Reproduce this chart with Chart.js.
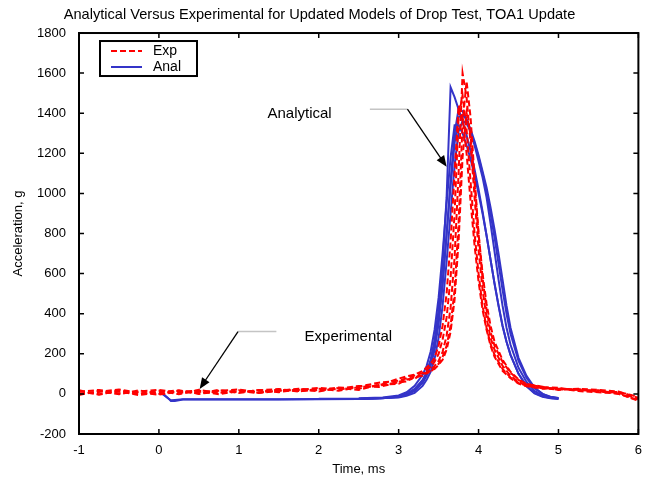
<!DOCTYPE html>
<html>
<head>
<meta charset="utf-8">
<script src="https://cdn.jsdelivr.net/npm/chart.js@4.4.1/dist/chart.umd.min.js"></script>
<style>
  html, body { margin: 0; padding: 0; background: #fff; }
  canvas { display: block; }
</style>
</head>
<body>
<canvas id="drop-chart" width="651" height="481"></canvas>
<script>
// drop test chart code

// Experimental traces: sample times (ms) and accelerations (g)
const expTime = [-1, -0.75, -0.5, -0.25, 0, 0.25, 0.5, 0.75, 1, 1.25, 1.5, 1.75, 2, 2.25, 2.5, 2.75,
  3.0, 3.1, 3.2, 3.3, 3.4,
  3.45, 3.5, 3.55, 3.6, 3.65, 3.7, 3.75, 3.8, 3.85, 3.9, 3.95, 4.0, 4.05, 4.1, 4.15, 4.2,
  4.3, 4.4, 4.5, 4.6, 4.8, 5.0, 5.25, 5.5, 5.75, 6.0];
const exp1 = [14, -4, 18, 0, 16, -2, 20, 4, 18, 6, 22, 12, 26, 16, 34, 40,
  60, 70, 82, 95, 120,
  140, 165, 210, 290, 430, 680, 1100, 1600, 1480, 1250, 980, 720, 520, 380, 280, 220,
  140, 90, 60, 42, 30, 26, 20, 14, 6, -25];
const exp2 = [-6, 16, -2, 18, 0, 16, 2, 20, 4, 20, 8, 24, 12, 30, 20, 46,
  50, 72, 76, 100, 110,
  130, 150, 185, 240, 340, 520, 850, 1350, 1560, 1380, 1080, 800, 580, 420, 310, 240,
  160, 105, 70, 48, 34, 30, 18, 18, 0, -30];
const exp3 = [10, 20, 2, 12, 20, 6, 10, 16, 22, 8, 16, 20, 30, 22, 36, 56,
  66, 78, 92, 105, 135,
  160, 200, 270, 380, 580, 900, 1380, 1490, 1320, 1060, 800, 600, 440, 330, 250, 195,
  125, 82, 55, 40, 28, 22, 24, 10, 10, -15];
const exp4 = [18, -2, 12, -6, 8, 18, 0, 12, 10, 18, 24, 14, 20, 32, 26, 44,
  76, 88, 96, 115, 150,
  180, 240, 340, 500, 760, 1100, 1440, 1380, 1200, 960, 740, 560, 420, 320, 240, 185,
  115, 78, 52, 38, 26, 28, 14, 8, 2, -35];
const exp5 = [0, 10, 22, 6, -4, 12, 16, -2, 14, 4, 16, 26, 18, 26, 40, 34,
  58, 62, 85, 90, 115,
  125, 145, 170, 220, 310, 470, 760, 1180, 1400, 1290, 1050, 800, 600, 450, 340, 260,
  170, 110, 72, 50, 36, 20, 26, 20, 12, -20];

// Analytical traces: sample times (ms) and accelerations (g)
const anaTime = [0, 0.05, 0.1, 0.15, 0.2, 0.3, 0.5, 1.0, 1.5, 2.0,
  2.5, 2.8, 3.0, 3.1, 3.2, 3.3,
  3.35, 3.4, 3.45, 3.5, 3.55, 3.6, 3.65, 3.7, 3.75, 3.8, 3.85, 3.9, 3.95, 4.0, 4.05, 4.1, 4.15, 4.2, 4.25, 4.3, 4.35, 4.4,
  4.5, 4.6, 4.7, 4.8, 4.9, 5.0];
const ana1 = [5, 0, -15, -35, -35, -28, -28, -28, -28, -27,
  -26, -22, -12, 0, 25, 70,
  110, 170, 270, 420, 650, 980, 1530, 1480, 1420, 1360, 1290, 1210, 1120, 1020, 910, 790, 670, 550, 440, 340, 260, 195,
  100, 40, 5, -12, -20, -24];
const ana2 = [5, -2, -18, -32, -30, -27, -27, -27, -27, -26,
  -25, -22, -15, -5, 15, 55,
  90, 140, 220, 350, 540, 790, 1060, 1300, 1420, 1410, 1370, 1310, 1240, 1160, 1080, 980, 850, 710, 570, 440, 330, 245,
  130, 60, 15, -8, -18, -22];
const ana3 = [null, null, null, null, null, null, null, null, null, -24,
  -24, -20, -18, -10, 5, 40,
  70, 110, 175, 280, 440, 660, 900, 1140, 1310, 1360, 1350, 1310, 1250, 1180, 1100, 1010, 900, 780, 650, 520, 400, 300,
  165, 80, 28, 0, -14, -20];
const ana4 = [null, null, null, null, null, null, null, null, null, null,
  -22, -18, -8, 8, 40, 95,
  140, 210, 320, 480, 700, 950, 1180, 1340, 1340, 1300, 1240, 1170, 1090, 1000, 900, 790, 670, 550, 440, 340, 260, 195,
  100, 38, 2, -15, -22, -26];
const ana5 = [null, null, null, null, null, null, null, null, null, null,
  -25, -21, -14, -2, 22, 65,
  100, 155, 240, 370, 560, 800, 1040, 1250, 1380, 1390, 1370, 1320, 1260, 1190, 1110, 1030, 930, 820, 700, 570, 440, 330,
  180, 90, 32, 0, -16, -22];

// Axis ticks
const xTicks = [-1, 0, 1, 2, 3, 4, 5, 6];
const yTicks = [-200, 0, 200, 400, 600, 800, 1000, 1200, 1400, 1600, 1800];

// Callouts (data units): label centre, leader line, arrow tip
const noteText = ['Analytical', 'Experimental'];
const noteX = [1.76, 2.37];
const noteY = [1395, 285];
const leaderStartX = [2.64, 1.47];
const leaderEndX = [3.11, 0.99];
const leaderY = [1420, 311];
const arrowTipX = [3.6, 0.51];
const arrowTipY = [1133, 25];

const FONT = 'Arial, "Liberation Sans", Helvetica, sans-serif';
const RED = '#ff0000';
const BLUE = '#3434c8';

const toPoints = (times, vals) => times.map((t, i) => ({ x: t, y: vals[i] }));

const expSeries = [exp1, exp2, exp3, exp4, exp5];
const anaSeries = [ana1, ana2, ana3, ana4, ana5];

// red first so it is drawn on top
const datasets = [
  ...expSeries.map((v, i) => ({
    label: 'Exp ' + (i + 1),
    data: toPoints(expTime, v),
    borderColor: RED,
    borderWidth: 2,
    borderDash: [6, 3],
    pointRadius: 0,
    tension: 0,
    fill: false
  })),
  ...anaSeries.map((v, i) => ({
    label: 'Anal ' + (i + 1),
    data: toPoints(anaTime, v),
    borderColor: BLUE,
    borderWidth: 2,
    pointRadius: 0,
    tension: 0,
    fill: false
  }))
];

// Box round the plot with inward ticks on all four sides
const framePlugin = {
  id: 'frame',
  afterDatasetsDraw(chart) {
    const { ctx, chartArea: a, scales: { x, y } } = chart;
    ctx.save();
    ctx.strokeStyle = '#000';
    ctx.lineWidth = 1.5;
    ctx.beginPath();
    xTicks.forEach(v => {
      const px = x.getPixelForValue(v);
      ctx.moveTo(px, a.bottom); ctx.lineTo(px, a.bottom - 5);
      ctx.moveTo(px, a.top); ctx.lineTo(px, a.top + 5);
    });
    yTicks.forEach(v => {
      const py = y.getPixelForValue(v);
      ctx.moveTo(a.left, py); ctx.lineTo(a.left + 5, py);
      ctx.moveTo(a.right, py); ctx.lineTo(a.right - 5, py);
    });
    ctx.stroke();
    ctx.lineWidth = 2;
    ctx.strokeRect(a.left, a.top, a.right - a.left, a.bottom - a.top);
    ctx.restore();
  }
};

// Text callouts with grey leader and black arrow
const calloutPlugin = {
  id: 'callouts',
  afterDatasetsDraw(chart) {
    const { ctx, scales: { x, y } } = chart;
    ctx.save();
    noteText.forEach((txt, i) => {
      ctx.fillStyle = '#000';
      ctx.font = '15px ' + FONT;
      ctx.textAlign = 'center';
      ctx.textBaseline = 'middle';
      ctx.fillText(txt, x.getPixelForValue(noteX[i]), y.getPixelForValue(noteY[i]));

      const ly = y.getPixelForValue(leaderY[i]);
      const sx = x.getPixelForValue(leaderStartX[i]);
      const ex = x.getPixelForValue(leaderEndX[i]);
      ctx.strokeStyle = '#c4c4c4';
      ctx.lineWidth = 1.5;
      ctx.beginPath(); ctx.moveTo(sx, ly); ctx.lineTo(ex, ly); ctx.stroke();

      const tx = x.getPixelForValue(arrowTipX[i]);
      const ty = y.getPixelForValue(arrowTipY[i]);
      const ang = Math.atan2(ty - ly, tx - ex);
      ctx.strokeStyle = '#000';
      ctx.lineWidth = 1.3;
      ctx.beginPath(); ctx.moveTo(ex, ly);
      ctx.lineTo(tx - 8 * Math.cos(ang), ty - 8 * Math.sin(ang)); ctx.stroke();
      ctx.fillStyle = '#000';
      ctx.beginPath();
      ctx.moveTo(tx, ty);
      ctx.lineTo(tx - 11 * Math.cos(ang) + 4.5 * Math.sin(ang), ty - 11 * Math.sin(ang) - 4.5 * Math.cos(ang));
      ctx.lineTo(tx - 11 * Math.cos(ang) - 4.5 * Math.sin(ang), ty - 11 * Math.sin(ang) + 4.5 * Math.cos(ang));
      ctx.closePath();
      ctx.fill();
    });
    ctx.restore();
  }
};

// Boxed legend inside the plot, top left
const legendPlugin = {
  id: 'boxLegend',
  afterDraw(chart) {
    const { ctx, chartArea: a } = chart;
    const left = a.left + 21, top = a.top + 8, w = 97, h = 35;
    ctx.save();
    ctx.fillStyle = '#fff';
    ctx.fillRect(left, top, w, h);
    ctx.strokeStyle = '#000';
    ctx.lineWidth = 2;
    ctx.strokeRect(left, top, w, h);
    const rows = [
      { text: 'Exp', color: RED, dash: [6, 3] },
      { text: 'Anal', color: BLUE, dash: [] }
    ];
    rows.forEach((r, i) => {
      const ry = top + 10 + i * 16;
      ctx.strokeStyle = r.color;
      ctx.lineWidth = 2;
      ctx.setLineDash(r.dash);
      ctx.beginPath(); ctx.moveTo(left + 11, ry); ctx.lineTo(left + 42, ry); ctx.stroke();
      ctx.setLineDash([]);
      ctx.fillStyle = '#000';
      ctx.font = '14px ' + FONT;
      ctx.textAlign = 'left';
      ctx.textBaseline = 'middle';
      ctx.fillText(r.text, left + 53, ry);
    });
    ctx.restore();
  }
};

const chartCanvas = document.querySelector('#drop-chart');

const dropChart = new Chart(chartCanvas, {
  type: 'line',
  data: { datasets },
  options: {
    responsive: false,
    animation: false,
    layout: { padding: { left: 0, right: 12, top: 0, bottom: 0 } },
    plugins: {
      legend: { display: false },
      tooltip: { enabled: false },
      title: {
        display: true,
        text: 'Analytical Versus Experimental for Updated Models of Drop Test, TOA1 Update',
        color: '#000',
        font: { family: FONT, size: 14.6, weight: 'normal' },
        padding: { top: 6, bottom: 9.5 }
      }
    },
    scales: {
      x: {
        type: 'linear',
        min: -1,
        max: 6,
        grid: { display: false, drawTicks: false },
        border: { display: false },
        ticks: { stepSize: 1, color: '#000', padding: 9, font: { family: FONT, size: 13 } },
        title: {
          display: true, text: 'Time, ms', color: '#000',
          font: { family: FONT, size: 13 }, padding: { top: 0, bottom: 4 }
        },
        afterFit: s => { s.height = 47; }
      },
      y: {
        min: -200,
        max: 1800,
        grid: { display: false, drawTicks: false },
        border: { display: false },
        ticks: {
          stepSize: 200, color: '#000', padding: 13, font: { family: FONT, size: 13 },
          callback: value => String(value)
        },
        title: {
          display: true, text: 'Acceleration, g', color: '#000',
          font: { family: FONT, size: 13 }, padding: { top: 11, bottom: 0 }
        },
        afterFit: s => { s.width = 79; }
      }
    }
  },
  plugins: [framePlugin, calloutPlugin, legendPlugin]
});
</script>
</body>
</html>
